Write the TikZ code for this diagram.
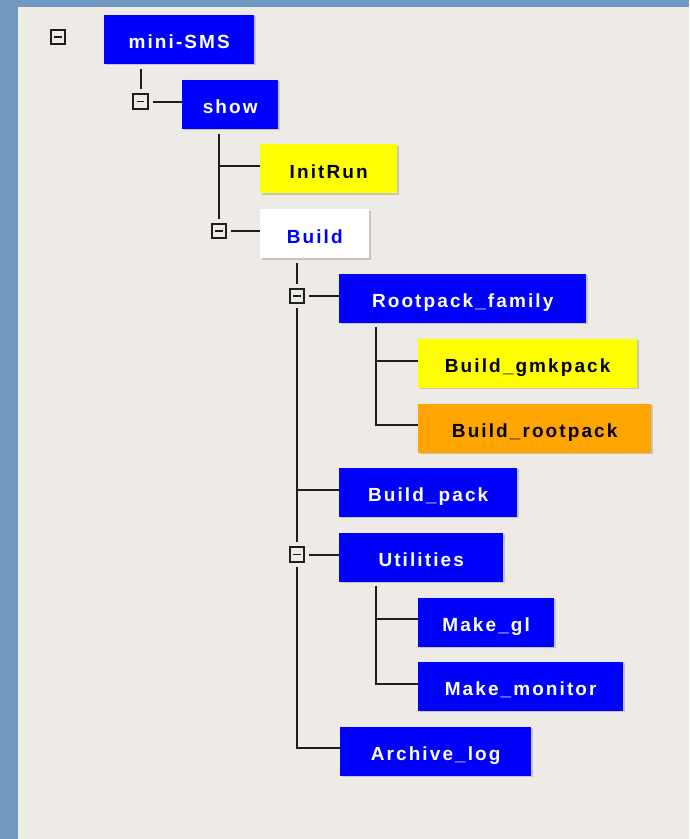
\documentclass[tikz,border=0pt]{standalone}
\usepackage{fontspec}
\setmainfont{Liberation Sans}[LetterSpace=11]
\usetikzlibrary{shadows}
\definecolor{frameblue}{RGB}{112,152,193}
\definecolor{panelgrey}{RGB}{238,235,230}
\definecolor{taskblue}{RGB}{0,0,255}
\definecolor{taskyellow}{RGB}{255,255,0}
\definecolor{taskorange}{RGB}{255,165,0}
\definecolor{treeline}{RGB}{30,30,30}
\tikzset{
  task/.style={anchor=west, fill=#1, minimum height=49pt, inner sep=0pt,
    text height=19pt, text depth=0pt,
    text=white, font=\fontsize{19}{22}\selectfont\bfseries,
    drop shadow={shadow xshift=1.5pt, shadow yshift=-1.5pt, opacity=0.35}},
  darktext/.style={text=black},
  tgbox/.style={draw=treeline, line width=2.2pt, fill=panelgrey,
    minimum size=14.5pt, inner sep=0pt,
    path picture={\draw[treeline, line width=1.8pt]
      ([xshift=3.5pt]path picture bounding box.west) --
      ([xshift=-3.5pt]path picture bounding box.east);}},
  branch/.style={draw=treeline, line width=2pt}
}
\begin{document}
\begin{tikzpicture}[x=1pt, y=-1pt]
  \useasboundingbox (0,0) rectangle (689,839);
  \fill[frameblue] (0,0) rectangle (689,839);
  \fill[panelgrey] (18,7) rectangle (689,839);

  % tasks
  \node[task=taskblue, minimum width=150pt] (mini) at (104,39) {mini-SMS};
  \node[task=taskblue, minimum width=96pt] (show) at (182,104) {show};
  \node[task=taskyellow, darktext, minimum width=137pt] (init) at (260,168.5) {InitRun};
  \node[task=white, text=taskblue, minimum width=109pt] (build) at (260,233.5) {Build};
  \node[task=taskblue, minimum width=247pt] (rootFam) at (339,298) {Rootpack\_family};
  \node[task=taskyellow, darktext, minimum width=219pt] (bGmk) at (418,363) {Build\_gmkpack};
  \node[task=taskorange, darktext, minimum width=233pt] (bRoot) at (418,428) {Build\_rootpack};
  \node[task=taskblue, minimum width=178pt] (bPack) at (339,492) {Build\_pack};
  \node[task=taskblue, minimum width=164pt] (utils) at (339,557) {Utilities};
  \node[task=taskblue, minimum width=136pt] (mkGl) at (418,622) {Make\_gl};
  \node[task=taskblue, minimum width=205pt] (mkMon) at (418,686) {Make\_monitor};
  \node[task=taskblue, minimum width=191pt] (archLog) at (340,751) {Archive\_log};

  % toggles
  \node[tgbox] (tgMini) at (58,37) {};
  \node[tgbox] (tgShow) at (140.5,101.5) {};
  \node[tgbox] (tgBuild) at (219,231) {};
  \node[tgbox] (tgRoot) at (297,296) {};
  \node[tgbox] (tgUtils) at (297,554.5) {};

  % tree lines
  \draw[branch, shorten >=4pt] ([yshift=-5pt]mini.south -| tgShow) -- (tgShow.north);
  \draw[branch, shorten <=4pt] (tgShow.east) -- (tgShow.east -| show.west);
  \draw[branch, shorten >=4pt] ([yshift=-5pt]show.south -| tgBuild) -- (tgBuild.north);
  \draw[branch] ([yshift=2.5pt]init.west) -- ([yshift=2.5pt]init.west -| tgBuild);
  \draw[branch, shorten <=4pt] (tgBuild.east) -- (tgBuild.east -| build.west);

  \coordinate (buildTrunk) at ([yshift=-5pt]build.south -| tgRoot);
  \draw[branch, shorten >=4pt] (buildTrunk) -- (tgRoot.north);
  \draw[branch, shorten <=4pt, shorten >=4pt] (tgRoot.south) -- (tgUtils.north);
  \draw[branch, shorten <=4pt] (tgUtils.south) |- ([yshift=3pt]archLog.west);
  \draw[branch] ([yshift=2.5pt]bPack.west) -- ([yshift=2.5pt]bPack.west -| tgRoot);
  \draw[branch, shorten <=4pt] (tgRoot.east) -- (tgRoot.east -| rootFam.west);
  \draw[branch, shorten <=4pt] (tgUtils.east) -- (tgUtils.east -| utils.west);

  \coordinate (rfTrunk) at ([xshift=37pt,yshift=-4pt]rootFam.south west);
  \draw[branch] (rfTrunk) |- ([yshift=3pt]bRoot.west);
  \draw[branch] ([yshift=2.5pt]bGmk.west) -- ([yshift=2.5pt]bGmk.west -| rfTrunk);

  \coordinate (utTrunk) at ([xshift=37pt,yshift=-4pt]utils.south west);
  \draw[branch] (utTrunk) |- ([yshift=2.5pt]mkMon.west);
  \draw[branch] ([yshift=3pt]mkGl.west) -- ([yshift=3pt]mkGl.west -| utTrunk);
\end{tikzpicture}
\end{document}
